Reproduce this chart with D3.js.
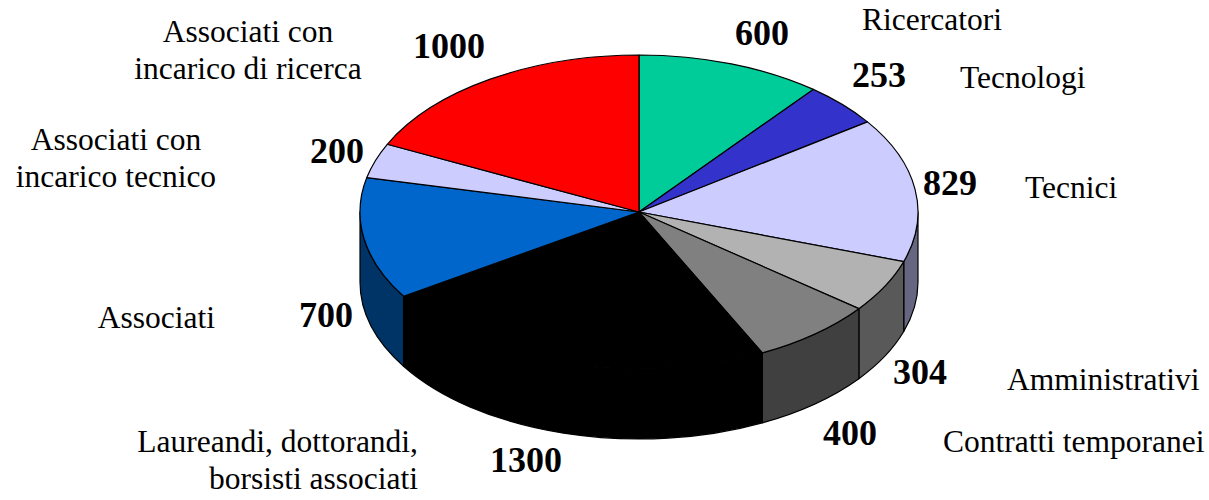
<!DOCTYPE html>
<html>
<head>
<meta charset="utf-8">
<script src="https://cdn.jsdelivr.net/npm/d3@7"></script>
<style>
  html, body { margin: 0; padding: 0; background: #ffffff; }
  svg { display: block; }
  text { font-family: "Liberation Serif", "Times New Roman", serif; fill: #000; }
</style>
</head>
<body>
<svg id="chart" width="1209" height="500"></svg>
<script>
// Personale per categoria
const categories = [
  "Ricercatori",
  "Tecnologi",
  "Tecnici",
  "Amministrativi",
  "Contratti temporanei",
  "Laureandi, dottorandi,\nborsisti associati",
  "Associati",
  "Associati con\nincarico tecnico",
  "Associati con\nincarico di ricerca"
];
const values = [600, 253, 829, 304, 400, 1300, 700, 200, 1000];
const topColors = ["#00CC99", "#3333CC", "#CCCCFF", "#B2B2B2", "#808080",
                   "#000000", "#0066CC", "#CCCCFF", "#FF0000"];

// Label placement: value label centre, category label anchor point
const valueLabelPos = [[762, 45], [879, 87], [950, 195], [920, 384], [850, 445],
                       [526, 472], [326, 327], [337, 163], [449, 58]];
const nameLabelPos = [
  { x: 862, y: 30, anchor: "start" },
  { x: 960, y: 88, anchor: "start" },
  { x: 1025, y: 198, anchor: "start" },
  { x: 1007, y: 390, anchor: "start" },
  { x: 943, y: 452, anchor: "start" },
  { x: 418, y: 452, anchor: "end" },
  { x: 215, y: 328, anchor: "end" },
  { x: 116, y: 150, anchor: "middle" },
  { x: 248, y: 42, anchor: "middle" }
];

const svg = d3.select("#chart");
const cx = 639, cy = 212, rx = 279, ry = 157, depth = 70;

const arcs = d3.pie().sort(null).value(d => d).startAngle(0).endAngle(2 * Math.PI)(values);

// Point on the ellipse for a pie angle (clockwise from 12 o'clock)
const pt = (a, dy = 0) => [cx + rx * Math.sin(a), cy - ry * Math.cos(a) + dy];
const fmt = p => p[0].toFixed(2) + "," + p[1].toFixed(2);

function topPath(d) {
  const large = d.endAngle - d.startAngle > Math.PI ? 1 : 0;
  return `M${cx},${cy}L${fmt(pt(d.startAngle))}A${rx},${ry} 0 ${large} 1 ${fmt(pt(d.endAngle))}Z`;
}

function wallPath(d) {
  const s = Math.max(d.startAngle, Math.PI / 2);
  const e = Math.min(d.endAngle, 3 * Math.PI / 2);
  if (s >= e) return null;
  return `M${fmt(pt(s))}A${rx},${ry} 0 0 1 ${fmt(pt(e))}` +
         `L${fmt(pt(e, depth))}A${rx},${ry} 0 0 0 ${fmt(pt(s, depth))}Z`;
}

const darker = c => { const h = d3.hsl(c); const r = d3.rgb(c); return d3.rgb(r.r * 0.5, r.g * 0.5, r.b * 0.5).formatHex(); };

// Side walls (front half only)
svg.append("g").selectAll("path")
  .data(arcs.filter(d => wallPath(d)))
  .join("path")
  .attr("d", wallPath)
  .attr("fill", d => darker(topColors[d.index]))
  .attr("stroke", "#000")
  .attr("stroke-width", 1.2)
  .attr("stroke-linejoin", "round");

// Top faces
svg.append("g").selectAll("path")
  .data(arcs)
  .join("path")
  .attr("d", topPath)
  .attr("fill", d => topColors[d.index])
  .attr("stroke", "#000")
  .attr("stroke-width", 1.2)
  .attr("stroke-linejoin", "round");

// Values
svg.append("g").selectAll("text")
  .data(arcs)
  .join("text")
  .attr("x", d => valueLabelPos[d.index][0])
  .attr("y", d => valueLabelPos[d.index][1])
  .attr("text-anchor", "middle")
  .attr("font-size", 36)
  .attr("font-weight", "bold")
  .text(d => d.data);

// Category names
const names = svg.append("g").selectAll("text")
  .data(categories)
  .join("text")
  .attr("x", (d, i) => nameLabelPos[i].x)
  .attr("y", (d, i) => nameLabelPos[i].y)
  .attr("text-anchor", (d, i) => nameLabelPos[i].anchor)
  .attr("font-size", 31.5);

names.each(function (d, i) {
  const lines = d.split("\n");
  d3.select(this).selectAll("tspan")
    .data(lines)
    .join("tspan")
    .attr("x", nameLabelPos[i].x)
    .attr("dy", (l, j) => j === 0 ? 0 : 37)
    .text(l => l);
});
</script>
</body>
</html>
